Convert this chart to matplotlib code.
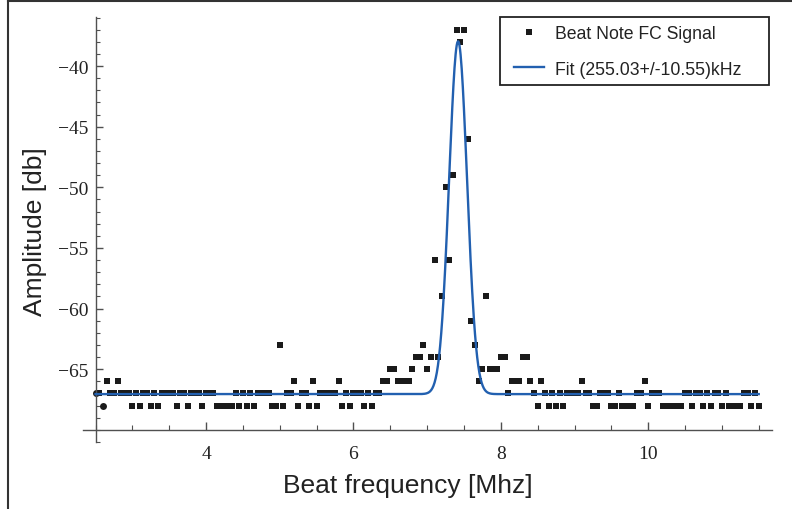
import numpy as np
import matplotlib
matplotlib.use('Agg')
import matplotlib.pyplot as plt
from matplotlib.lines import Line2D
from matplotlib.patches import Rectangle
from matplotlib.ticker import MultipleLocator, FixedLocator

# measured beat note spectrum, 0.05 MHz steps from 2.5 to 11.5 MHz
freq = np.linspace(2.5, 11.5, 181)
amps = np.array([
    -67, -67, -68, -66, -67, -67, -66, -67, -67, -67,
    -68, -67, -68, -67, -67, -68, -67, -68, -67, -67,
    -67, -67, -68, -67, -67, -68, -67, -67, -67, -68,
    -67, -67, -67, -68, -68, -68, -68, -68, -67, -68,
    -67, -68, -67, -68, -67, -67, -67, -67, -68, -68,
    -63, -68, -67, -67, -66, -68, -67, -67, -68, -66,
    -68, -67, -67, -67, -67, -67, -66, -68, -67, -68,
    -67, -67, -67, -68, -67, -68, -67, -67, -66, -66,
    -65, -65, -66, -66, -66, -66, -65, -64, -64, -63,
    -65, -64, -56, -64, -59, -50, -56, -49, -37, -38,
    -37, -46, -61, -63, -66, -65, -59, -65, -65, -65,
    -64, -64, -67, -66, -66, -66, -64, -64, -66, -67,
    -68, -66, -67, -68, -67, -68, -67, -68, -67, -67,
    -67, -67, -66, -67, -67, -68, -68, -67, -67, -67,
    -68, -68, -67, -68, -68, -68, -68, -67, -67, -66,
    -68, -67, -67, -67, -68, -68, -68, -68, -68, -68,
    -67, -67, -68, -67, -67, -68, -67, -68, -67, -67,
    -68, -67, -68, -68, -68, -68, -67, -67, -68, -67,
    -68,
])
round_pts = [0, 2]   # first samples drawn as dots in the original

# gaussian fit parameters (MHz, dB)
fit_center = 7.42
fit_sigma = 0.122
fit_height = 29.1
fit_floor = -67.05

label_data = 'Beat Note FC Signal'
label_fit = 'Fit (255.03+/-10.55)kHz'

W, H = 792, 510
fig = plt.figure(figsize=(W / 100, H / 100), dpi=100)
ax = fig.add_axes([83 / W, 1 - 443 / H, (772 - 83) / W, (443 - 18) / H])

sq = np.ones(len(freq), bool)
sq[round_pts] = False
ax.plot(freq[sq], amps[sq], 's', color='#1a1a1a', markersize=4.3,
        markeredgewidth=0, label=label_data, zorder=2, clip_on=False)
ax.plot(freq[round_pts], amps[round_pts], 'o', color='#1a1a1a',
        markersize=5, markeredgewidth=0, zorder=2, clip_on=False)

xf = np.linspace(2.5, 11.5, 1200)
yf = fit_floor + fit_height * np.exp(-(xf - fit_center) ** 2 / (2 * fit_sigma ** 2))
ax.plot(xf, yf, '-', color='#2260b0', lw=1.7, label=label_fit, zorder=3)

ax.set_xlim(2.33, 11.68)
ax.set_ylim(-71, -35.95)
for s in ['top', 'right']:
    ax.spines[s].set_visible(False)
ax.spines['left'].set_position(('data', 2.5))
ax.spines['bottom'].set_position(('data', -70))
for s in ['left', 'bottom']:
    ax.spines[s].set_color('#505050')
    ax.spines[s].set_linewidth(1.0)

ax.xaxis.set_major_locator(FixedLocator([4, 6, 8, 10]))
ax.xaxis.set_minor_locator(MultipleLocator(0.5))
ax.yaxis.set_major_locator(FixedLocator([-65, -60, -55, -50, -45, -40]))
ax.yaxis.set_minor_locator(MultipleLocator(1))
ax.tick_params(axis='x', which='major', direction='in', length=6, width=1,
               color='#505050', pad=11)
ax.tick_params(axis='x', which='minor', direction='in', length=3.6, width=0.8,
               color='#505050')
ax.tick_params(axis='y', which='major', direction='in', length=5, width=1,
               color='#505050', pad=5)
ax.tick_params(axis='y', which='minor', direction='in', length=3, width=0.8,
               color='#505050')
for t in ax.get_xticklabels() + ax.get_yticklabels():
    t.set_fontfamily('Liberation Serif')
    t.set_fontsize(14)
    t.set_color('#222222')

fig.text(408 / W, 1 - 486 / H, 'Beat frequency [Mhz]', family='Liberation Sans',
         fontsize=19, color='#222222', ha='center', va='center')
fig.text(35 / W, 1 - 232 / H, 'Amplitude [db]', family='Liberation Sans',
         fontsize=19, color='#222222', ha='center', va='center', rotation=90)

leg = ax.legend(loc='upper left', bbox_to_anchor=(514 / W, 1 - 26 / H),
                bbox_transform=fig.transFigure, frameon=False, borderpad=0,
                borderaxespad=0, handlelength=1.7, handletextpad=0.6,
                labelspacing=1.05, numpoints=1,
                prop={'family': 'Liberation Sans', 'size': 12.7})
for t in leg.get_texts():
    t.set_color('#222222')
fig.add_artist(Rectangle((500 / W, 1 - 86 / H), 269 / W, 68 / H,
                         transform=fig.transFigure, fill=False,
                         edgecolor='#222222', lw=1.3))

# outer border of the original figure
fig.add_artist(Line2D([7.5 / W, 7.5 / W], [0, 1], transform=fig.transFigure,
                      color='#333333', lw=1.5))
fig.add_artist(Line2D([7.5 / W, 1], [1 - 1.5 / H, 1 - 1.5 / H],
                      transform=fig.transFigure, color='#333333', lw=1.5))

fig.savefig('out.png', dpi=100)
